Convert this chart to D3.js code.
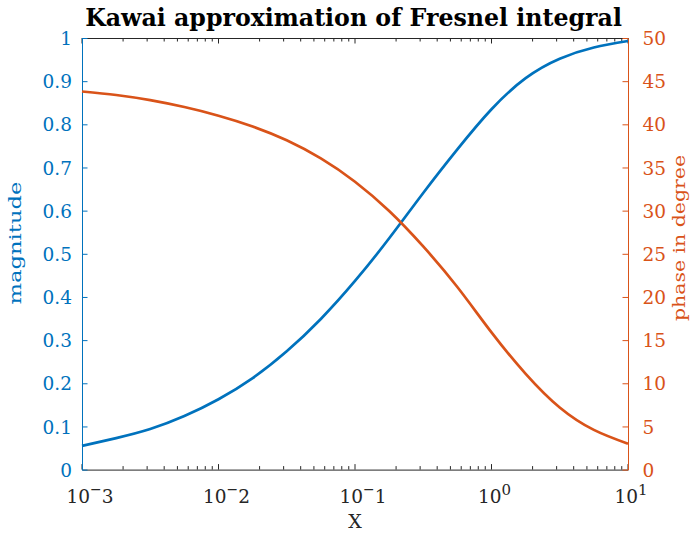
<!DOCTYPE html>
<html>
<head>
<meta charset="utf-8">
<script src="https://cdn.jsdelivr.net/npm/d3@7"></script>
<style>
  html, body { margin: 0; padding: 0; background: #fff; }
  svg { display: block; }
  svg text { font-family: "DejaVu Serif", "Liberation Serif", serif; }
</style>
</head>
<body>
<svg id="chart" width="698" height="534"></svg>
<script>
// Kawai approximation of the Fresnel integral: magnitude and phase versus X
const xValues = [0.001, 0.00178, 0.00316, 0.00562, 0.01, 0.0178, 0.0316, 0.0562, 0.1,
                 0.178, 0.316, 0.562, 1, 1.78, 3.16, 5.62, 10];
const magnitude = [0.055, 0.073, 0.094, 0.124, 0.163, 0.212, 0.274, 0.349, 0.437,
                   0.536, 0.641, 0.742, 0.835, 0.907, 0.952, 0.978, 0.993];
const phaseDeg  = [43.8, 43.4, 42.8, 42.0, 41.0, 39.75, 38.15, 36.05, 33.35,
                   29.95, 25.85, 21.15, 15.9, 11.1, 7.2, 4.6, 3.0];

const xTicks     = [1e-3, 1e-2, 1e-1, 1e0, 1e1];
const xTickExps  = ["-3", "-2", "-1", "0", "1"];
const magTicks   = [0, 0.1, 0.2, 0.3, 0.4, 0.5, 0.6, 0.7, 0.8, 0.9, 1];
const magLabels  = ["0", "0.1", "0.2", "0.3", "0.4", "0.5", "0.6", "0.7", "0.8", "0.9", "1"];
const phaseTicks = [0, 5, 10, 15, 20, 25, 30, 35, 40, 45, 50];

const blue = "#0072BD", orange = "#D95319", axisGray = "#262626";
const FONT = '"DejaVu Serif", "Liberation Serif", serif';

const L = 82, R = 628, T = 38, B = 469.6;
const svg = d3.select("#chart");

const x  = d3.scaleLog().domain([1e-3, 10]).range([L, R]);
const yL = d3.scaleLinear().domain([0, 1]).range([B, T]);
const yR = d3.scaleLinear().domain([0, 50]).range([B, T]);

// minor ticks 2..9 within each decade
const minor = [];
for (let e = -3; e < 1; e++) for (let k = 2; k <= 9; k++) minor.push(k * Math.pow(10, e));

// bottom and top frame lines
[[B, d3.axisBottom], [T, d3.axisTop]].forEach(([yy, ax]) => {
  const g = svg.append("g").attr("transform", `translate(0,${yy})`);
  g.call(ax(x).tickValues([]).tickSizeOuter(0));
  g.select(".domain").attr("stroke", axisGray);
});

// inward x ticks on bottom and top
[[B, -1], [T, 1]].forEach(([yy, dir]) => {
  svg.append("g").selectAll("line").data(xTicks).join("line")
    .attr("x1", d => x(d)).attr("x2", d => x(d))
    .attr("y1", yy).attr("y2", yy + dir * 5.5)
    .attr("stroke", axisGray);
  svg.append("g").selectAll("line").data(minor).join("line")
    .attr("x1", d => x(d)).attr("x2", d => x(d))
    .attr("y1", yy).attr("y2", yy + dir * 3.5)
    .attr("stroke", axisGray);
});

// x tick labels 10^n
const xl = svg.append("g").attr("fill", axisGray).style("font-family", FONT).attr("font-size", 18.5);
xTicks.forEach((v, i) => {
  const ex = xTickExps[i];
  const neg = ex.startsWith("-");
  const t = xl.append("text").attr("x", x(v) - (neg ? 15.5 : 13.5)).attr("y", 503);
  t.append("tspan").text("10");
  if (neg) {
    t.append("tspan").attr("dy", -9).attr("font-size", 14).text("\u2212");
    t.append("tspan").attr("dy", 9).text(ex.slice(1));
  } else {
    t.append("tspan").attr("dy", -8).attr("font-size", 15).text(ex);
  }
});

// left axis (magnitude)
const gL = svg.append("g").attr("transform", `translate(${L},0)`);
gL.call(d3.axisLeft(yL).tickValues(magTicks).tickSize(-5.5).tickSizeOuter(0)
  .tickFormat((d, i) => magLabels[i]));
gL.select(".domain").attr("stroke", blue);
gL.selectAll(".tick line").attr("stroke", blue);
gL.selectAll(".tick text").attr("fill", blue).attr("font-size", 18.5)
  .style("font-family", FONT).attr("x", -10).attr("dy", "0.36em");

// right axis (phase)
const gR = svg.append("g").attr("transform", `translate(${R},0)`);
gR.call(d3.axisRight(yR).tickValues(phaseTicks).tickSize(-5.5).tickSizeOuter(0));
gR.select(".domain").attr("stroke", orange);
gR.selectAll(".tick line").attr("stroke", orange);
gR.selectAll(".tick text").attr("fill", orange).attr("font-size", 18.5)
  .style("font-family", FONT).attr("x", 14.5).attr("dy", "0.36em");

// curves
const magLine = d3.line().x((d, i) => x(xValues[i])).y(d => yL(d)).curve(d3.curveNatural);
const phLine  = d3.line().x((d, i) => x(xValues[i])).y(d => yR(d)).curve(d3.curveNatural);

svg.append("path").datum(magnitude).attr("d", magLine)
  .attr("fill", "none").attr("stroke", blue).attr("stroke-width", 2.7)
  .attr("stroke-linejoin", "round");
svg.append("path").datum(phaseDeg).attr("d", phLine)
  .attr("fill", "none").attr("stroke", orange).attr("stroke-width", 2.7)
  .attr("stroke-linejoin", "round");

// title, sized to span the plot
const title = svg.append("text").attr("x", 353.5).attr("y", 26)
  .attr("text-anchor", "middle").attr("font-weight", "bold").attr("font-size", 20)
  .style("font-family", FONT).attr("fill", "#000")
  .text("Kawai approximation of Fresnel integral");
const tw = title.node().getComputedTextLength();
title.attr("font-size", 20 * 537 / tw);

svg.append("text").attr("x", (L + R) / 2).attr("y", 528)
  .attr("text-anchor", "middle").attr("font-size", 19).style("font-family", FONT)
  .attr("fill", axisGray).text("X");

svg.append("text").attr("transform", "translate(21,243) rotate(-90)")
  .attr("text-anchor", "middle").attr("font-size", 16).style("font-family", FONT)
  .attr("textLength", 123).attr("lengthAdjust", "spacingAndGlyphs")
  .attr("fill", blue).text("magnitude");

svg.append("text").attr("transform", "translate(685,238) rotate(-90)")
  .attr("text-anchor", "middle").attr("font-size", 16).style("font-family", FONT)
  .attr("textLength", 166).attr("lengthAdjust", "spacingAndGlyphs")
  .attr("fill", orange).text("phase in degree");
</script>
</body>
</html>
